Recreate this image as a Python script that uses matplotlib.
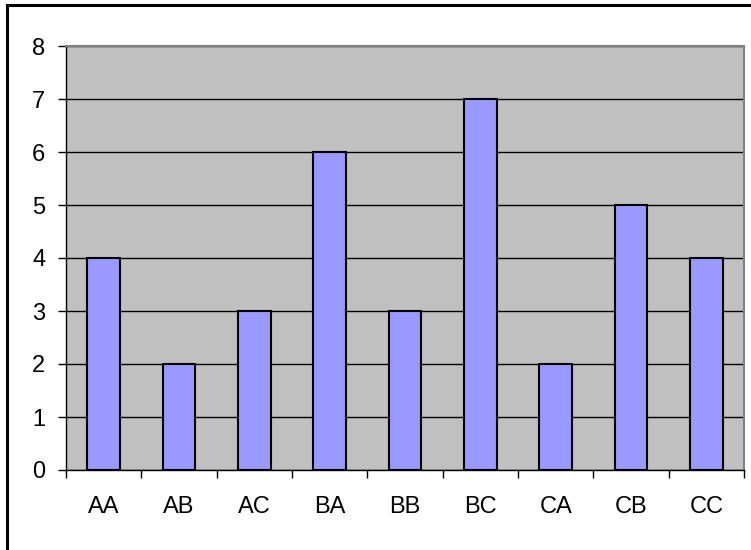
import matplotlib
matplotlib.use("Agg")
import matplotlib.pyplot as plt
from matplotlib.patches import Rectangle

categories = ["AA", "AB", "AC", "BA", "BB", "BC", "CA", "CB", "CC"]
values = [4, 2, 3, 6, 3, 7, 2, 5, 4]
yticks = [0, 1, 2, 3, 4, 5, 6, 7, 8]

plt.rcParams['font.family'] = ['Liberation Sans', 'DejaVu Sans']

fig = plt.figure(figsize=(7.51, 5.5), dpi=100)
ax = fig.add_axes([66/751, 80/550, (744-66)/751, (470-46)/550])
ax.set_facecolor('#C0C0C0')

x = list(range(len(categories)))
ax.bar(x, values, width=0.43, color='#9999FF', edgecolor='black', linewidth=1.5, zorder=3)

ax.set_xlim(-0.5, len(categories) - 0.5)
ax.set_ylim(0, 8)
ax.set_yticks(yticks)
ax.set_yticklabels([str(t) for t in yticks], fontsize=17)
ax.set_xticks([i - 0.5 for i in range(len(categories) + 1)])
ax.set_xticklabels([])
ax.set_xticks(x, minor=True)
ax.set_xticklabels(categories, minor=True, fontsize=17)
ax.tick_params(axis='x', which='minor', length=0, pad=19)
ax.tick_params(axis='x', which='major', length=6, width=1, direction='out')
ax.tick_params(axis='y', length=6, width=1, direction='out', pad=9)

ax.yaxis.grid(True, color='black', linewidth=1)
ax.set_axisbelow(True)
for s in ['top', 'right']:
    ax.spines[s].set_color('#808080')
    ax.spines[s].set_linewidth(1.5)
for s in ['left', 'bottom']:
    ax.spines[s].set_color('black')
    ax.spines[s].set_linewidth(1)

fig.patches.append(Rectangle((7/751, -0.1), 1.2, (550-4.5)/550 + 0.1, transform=fig.transFigure,
                             fill=False, edgecolor='black', linewidth=2.2))

fig.savefig('out.png', dpi=100)
